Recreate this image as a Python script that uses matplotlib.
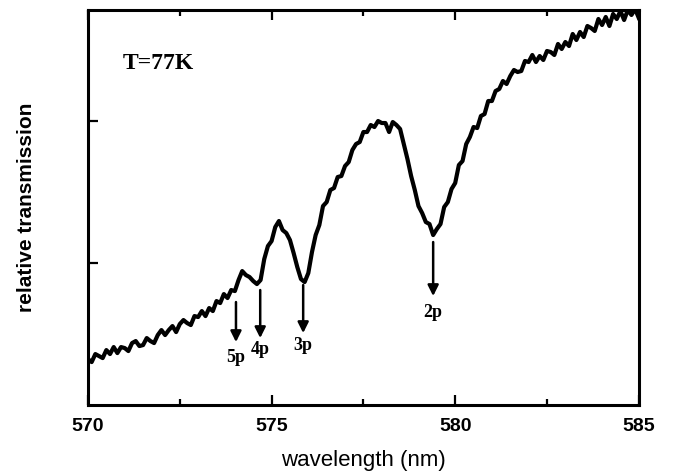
import numpy as np
import matplotlib
matplotlib.use("Agg")
import matplotlib.pyplot as plt
import matplotlib.ticker as ticker

# spectrum sampled every 0.1 nm from 570 to 585 nm (arbitrary transmission units)
wl_start, wl_stop, wl_count = 570.0, 585.0, 151
transmission = [
    46, 43, 51, 49, 47, 55, 51, 58, 52, 58,
    57, 54, 62, 64, 59, 60, 67, 64, 62, 70,
    75, 70, 75, 79, 73, 81, 85, 82, 80, 89,
    88, 94, 89, 97, 94, 104, 102, 111, 107, 115,
    114, 125, 134, 130, 128, 124, 121, 125, 146, 159,
    164, 178, 184, 175, 172, 165, 152, 138, 126, 123,
    132, 153, 170, 180, 199, 203, 215, 217, 228, 229,
    239, 243, 255, 261, 263, 273, 273, 280, 278, 284,
    282, 282, 273, 283, 280, 276, 261, 246, 229, 215,
    199, 192, 183, 181, 170, 176, 181, 198, 203, 216,
    222, 240, 244, 261, 268, 278, 277, 289, 291, 304,
    304, 314, 316, 324, 321, 329, 335, 333, 334, 344,
    343, 350, 343, 349, 345, 354, 353, 350, 361, 356,
    363, 359, 371, 365, 373, 368, 379, 377, 374, 386,
    380, 388, 379, 391, 386, 394, 385, 395, 390, 396,
    387,
]

# exciton markers: label, wavelength, arrow tail, arrow tip, label height
peak_labels = ["5p", "4p", "3p", "2p"]
peak_wl = [574.03, 574.69, 575.86, 579.40]
arrow_tail = [103, 115, 120, 163]
arrow_tip = [63, 67, 72, 109]
label_y = [48, 56, 60, 93]

wavelength = np.linspace(wl_start, wl_stop, wl_count)

fig = plt.figure(figsize=(6.8, 4.76), dpi=100)
ax = fig.add_axes([0.1294, 0.149, 0.81, 0.830])

ax.plot(wavelength, transmission, color="k", lw=3.0, solid_joinstyle="round")

for lab, x, t0, t1, ly in zip(peak_labels, peak_wl, arrow_tail, arrow_tip, label_y):
    ax.annotate("", xy=(x, t1), xytext=(x, t0),
                arrowprops=dict(arrowstyle="-|>", color="k", lw=1.8,
                                mutation_scale=16, shrinkA=0, shrinkB=0))
    ax.text(x, ly, lab, ha="center", va="center", fontsize=13,
            fontweight="bold", family="Liberation Serif")

ax.text(570.95, 342, "T=77K", ha="left", va="center", fontsize=17,
        fontweight="bold", family="Liberation Serif")

ax.set_xlim(570, 585)
ax.set_ylim(0, 395)
ax.xaxis.set_major_locator(ticker.MultipleLocator(5))
ax.xaxis.set_minor_locator(ticker.MultipleLocator(2.5))
ax.set_yticks([142, 284])
ax.set_yticklabels([])

ax.tick_params(axis="x", which="both", direction="in", top=True, width=1.6,
               labelsize=14, pad=9)
ax.tick_params(axis="x", which="major", length=7)
ax.tick_params(axis="x", which="minor", length=4)
ax.tick_params(axis="y", which="major", direction="in", length=7, width=1.6)
for lbl in ax.get_xticklabels():
    lbl.set_fontweight("bold")
    lbl.set_family("Liberation Sans")

for s in ax.spines.values():
    s.set_linewidth(2.2)

ax.set_xlabel("wavelength (nm)", fontsize=16, family="Liberation Sans", labelpad=11)
ax.set_ylabel("relative transmission", fontsize=15, fontweight="bold",
              family="Liberation Sans", labelpad=34)

fig.savefig("out.png", dpi=100)
